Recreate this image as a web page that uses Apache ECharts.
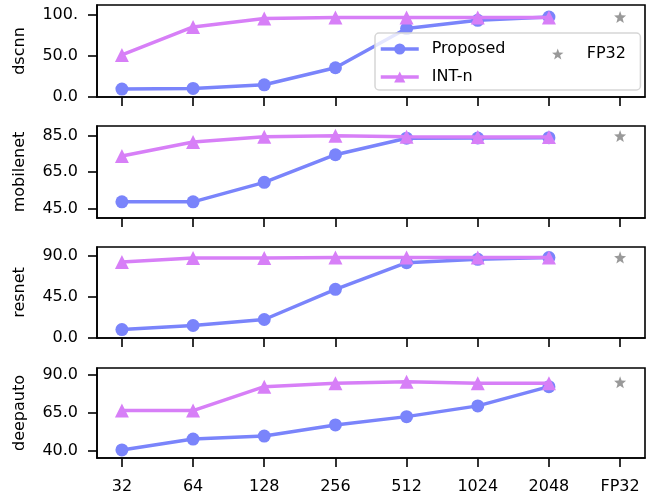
<!DOCTYPE html>
<html>
<head>
<meta charset="utf-8">
<script src="https://cdn.jsdelivr.net/npm/echarts@6/dist/echarts.min.js"></script>
<style>
  html, body { margin: 0; padding: 0; background: #fff; }
  #main { width: 649px; height: 498px; }
</style>
</head>
<body>
<div id="main"></div>
<script>
// x categories (bit widths)
var xLabels = ['32', '64', '128', '256', '512', '1024', '2048', 'FP32'];
var models = ['dscnn', 'mobilenet', 'resnet', 'deepauto'];

// accuracy, one array per model
var proposedDscnn = [9.6, 10.4, 14.8, 35.5, 83.1, 93.1, 97.0];
var intnDscnn = [51.0, 85.0, 95.2, 96.4, 96.4, 96.4, 96.4];
var fp32Dscnn = 97.1;

var proposedMobilenet = [48.6, 48.6, 59.3, 74.5, 83.6, 83.7, 83.9];
var intnMobilenet = [73.8, 81.5, 84.4, 85.0, 84.4, 84.3, 84.3];
var fp32Mobilenet = 84.8;

var proposedResnet = [9.2, 13.7, 20.3, 53.4, 82.7, 86.4, 88.3];
var intnResnet = [83.4, 87.8, 87.8, 88.3, 88.5, 88.5, 88.5];
var fp32Resnet = 88.3;

var proposedDeepauto = [40.5, 47.7, 49.7, 57.0, 62.5, 69.6, 82.3];
var intnDeepauto = [66.5, 66.5, 82.3, 84.5, 85.6, 84.5, 84.5];
var fp32Deepauto = 85.2;

// y ticks and labels per panel
var yTicks = [[0, 50, 100], [45, 65, 85], [0, 45, 90], [40, 65, 90]];
var yTickLabels = [['0.0', '50.0', '100.'], ['45.0', '65.0', '85.0'], ['0.0', '45.0', '90.0'], ['40.0', '65.0', '90.0']];
var yRanges = [[0, 111.7], [39.7, 90.3], [0, 99.9], [35.2, 94.6]];

var proposedAll = [proposedDscnn, proposedMobilenet, proposedResnet, proposedDeepauto];
var intnAll = [intnDscnn, intnMobilenet, intnResnet, intnDeepauto];
var fp32All = [fp32Dscnn, fp32Mobilenet, fp32Resnet, fp32Deepauto];

var cProposed = '#7a84fb';
var cIntn = '#d77ff7';
var cFp32 = '#7f7f7f';
var font = 'DejaVu Sans';
var starPath = 'path://M50,0 L62,33 L98,35 L70,57 L80,92 L50,72 L20,92 L30,57 L2,35 L38,33 Z';

var gridTops = [5, 126, 247, 368];
var gridHeights = [92, 92, 91, 90];

function pairs(arr) {
    return arr.map(function (v, i) { return [i, v]; });
}

var grids = [], xAxes = [], yAxes = [], series = [];
for (var k = 0; k < 4; k++) {
    grids.push({
        left: 97, right: 4, top: gridTops[k], height: gridHeights[k],
        show: true, borderColor: '#000', borderWidth: 1.6, backgroundColor: 'transparent'
    });
    (function (k) {
        xAxes.push({
            type: 'value', gridIndex: k, min: -0.35, max: 7.35,
            axisLine: { show: true, onZero: false, lineStyle: { color: '#000', width: 1.6 } },
            axisTick: { show: true, customValues: [0, 1, 2, 3, 4, 5, 6, 7], length: 9, lineStyle: { color: '#000', width: 1.6 } },
            axisLabel: {
                show: k === 3, customValues: [0, 1, 2, 3, 4, 5, 6, 7], margin: 21,
                color: '#000', fontSize: 16, fontFamily: font,
                formatter: function (v) { return xLabels[Math.round(v)]; }
            },
            splitLine: { show: false }
        });
        yAxes.push({
            type: 'value', gridIndex: k, min: yRanges[k][0], max: yRanges[k][1],
            name: models[k], nameLocation: 'middle', nameGap: 69, nameRotate: 90,
            nameTextStyle: { color: '#000', fontSize: 16, fontFamily: font },
            axisLine: { show: true, onZero: false, lineStyle: { color: '#000', width: 1.6 } },
            axisTick: { show: true, customValues: yTicks[k], length: 9, lineStyle: { color: '#000', width: 1.6 } },
            axisLabel: {
                customValues: yTicks[k], margin: 19,
                color: '#000', fontSize: 16, fontFamily: font,
                formatter: function (v) { return yTickLabels[k][yTicks[k].indexOf(v)]; }
            },
            splitLine: { show: false }
        });
    })(k);

    series.push({
        name: 'Proposed', type: 'line', xAxisIndex: k, yAxisIndex: k,
        data: pairs(proposedAll[k]), symbol: 'circle', symbolSize: 13,
        lineStyle: { color: cProposed, width: 3.5 }, itemStyle: { color: cProposed },
        animation: false, z: 2
    });
    series.push({
        name: 'INT-n', type: 'line', xAxisIndex: k, yAxisIndex: k,
        data: pairs(intnAll[k]), symbol: 'triangle', symbolSize: 14,
        lineStyle: { color: cIntn, width: 3.5 }, itemStyle: { color: cIntn },
        animation: false, z: 3
    });
    series.push({
        name: 'FP32', type: 'scatter', xAxisIndex: k, yAxisIndex: k,
        data: [[7, fp32All[k]]],
        symbol: starPath, symbolSize: 12, itemStyle: { color: cFp32 },
        animation: false, z: 3
    });
}

var myChart = echarts.init(document.getElementById('main'));
var options = {
    backgroundColor: '#fff',
    animation: false,
    grid: grids,
    xAxis: xAxes,
    yAxis: yAxes,
    legend: [{
        data: ['Proposed', 'INT-n'],
        orient: 'vertical', left: 375, top: 33,
        itemWidth: 38, itemHeight: 14, itemGap: 12,
        padding: [8, 135, 5, 4],
        backgroundColor: 'rgba(255,255,255,0.8)',
        borderColor: '#d6d6d6', borderWidth: 1.5, borderRadius: 4,
        lineStyle: { width: 3.5 },
        textStyle: { color: '#000', fontSize: 16, fontFamily: font, padding: [0, 0, 0, 8] },
        z: 5
    }, {
        data: ['FP32'],
        left: 547, top: 41,
        itemWidth: 38, itemHeight: 11,
        textStyle: { color: '#000', fontSize: 16, fontFamily: font, padding: [0, 0, 0, 5] },
        z: 6
    }],
    series: series
};
myChart.setOption(options);
</script>
</body>
</html>
